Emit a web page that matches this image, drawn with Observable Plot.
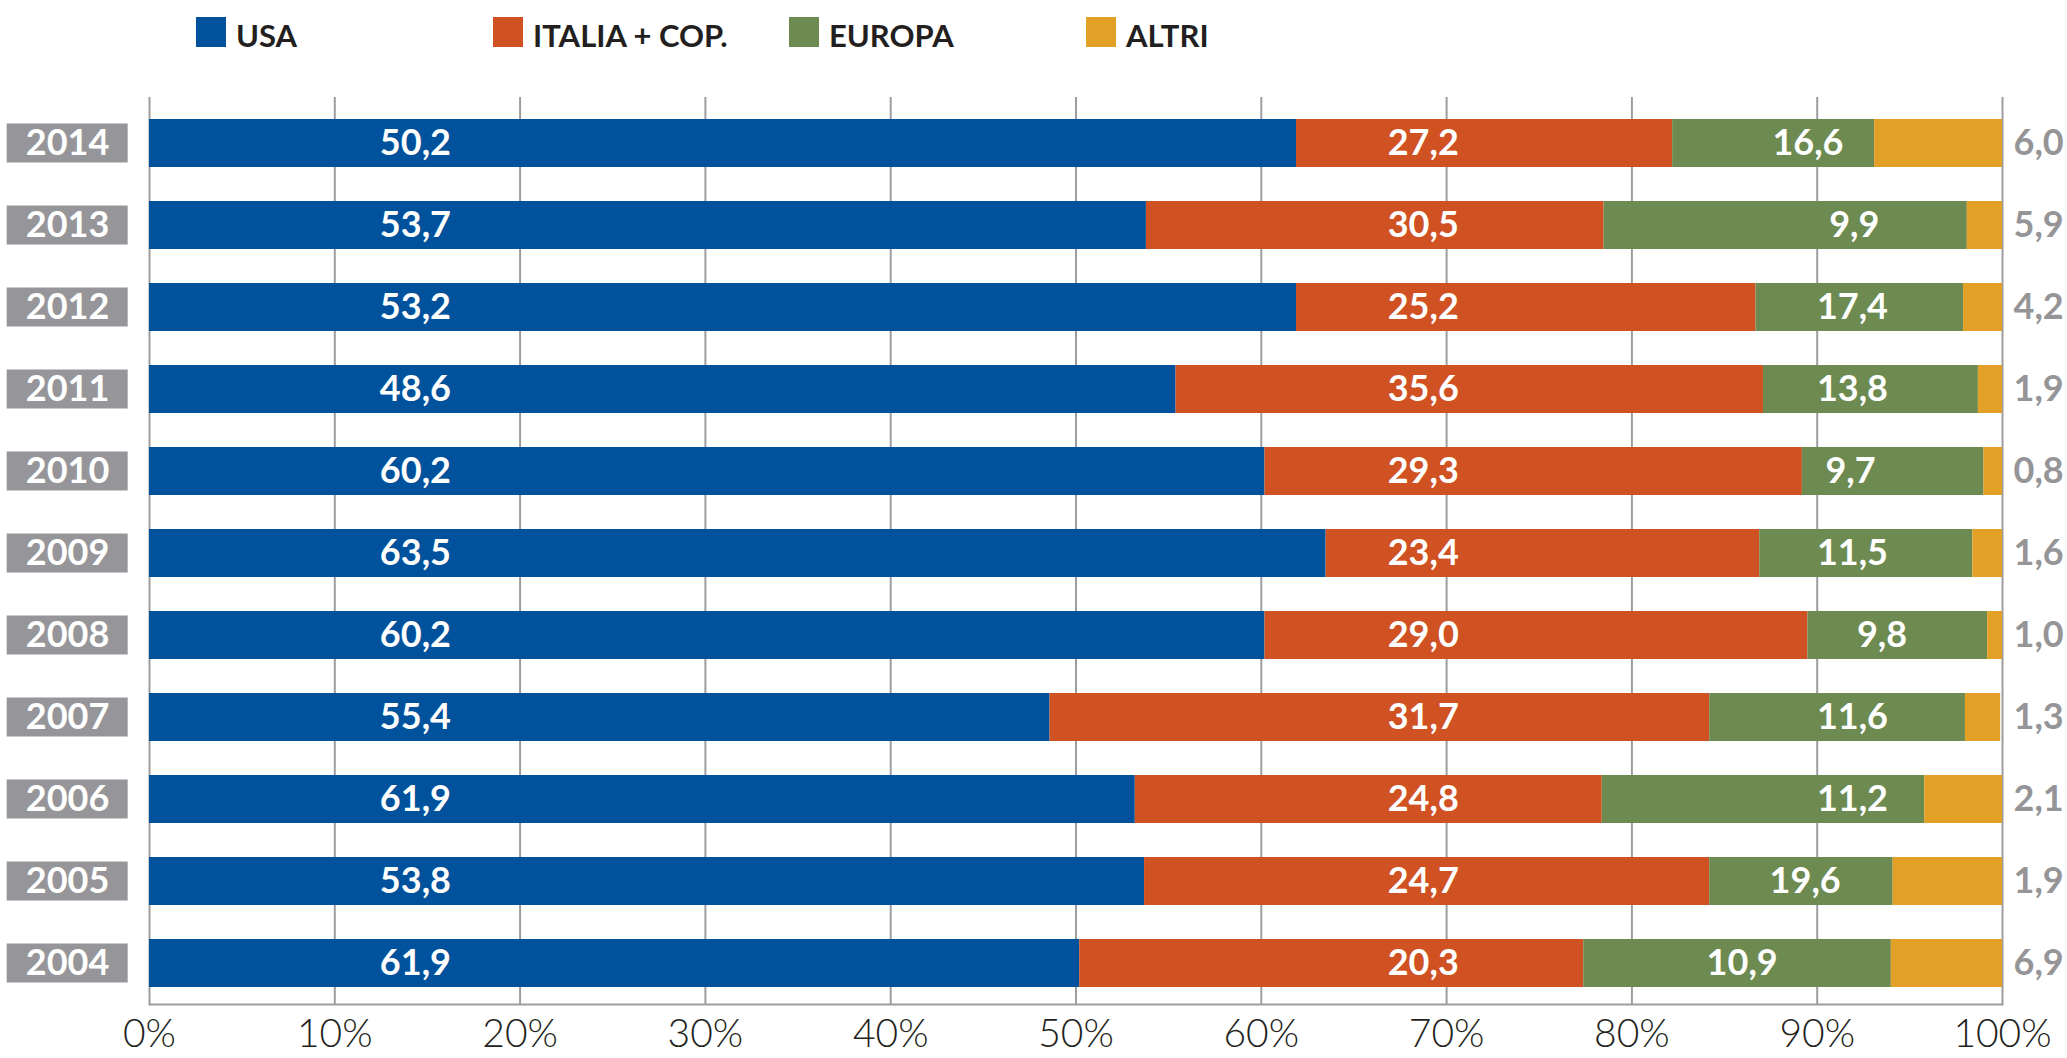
<!DOCTYPE html>
<html>
<head>
<meta charset="utf-8">
<script src="https://cdn.jsdelivr.net/npm/d3@7"></script>
<script src="https://cdn.jsdelivr.net/npm/@observablehq/plot@0.6"></script>
<style>
  html, body { margin: 0; padding: 0; background: #ffffff; }
  #legend { position: relative; width: 2067px; height: 62px; font-family: Lato, "Open Sans", sans-serif; }
  .sw { position: absolute; top: 17px; width: 30px; height: 30px; }
  .lt { position: absolute; top: 20px; line-height: 30px; font-size: 31px; font-weight: 700; color: #231f20; white-space: nowrap; }
  #chart svg { display: block; }
</style>
</head>
<body>
<div id="legend"></div>
<div id="chart"></div>
<script>
// ---- data ----
const years = [2014, 2013, 2012, 2011, 2010, 2009, 2008, 2007, 2006, 2005, 2004];
const usa    = [50.2, 53.7, 53.2, 48.6, 60.2, 63.5, 60.2, 55.4, 61.9, 53.8, 61.9];
const italia = [27.2, 30.5, 25.2, 35.6, 29.3, 23.4, 29.0, 31.7, 24.8, 24.7, 20.3];
const europa = [16.6,  9.9, 17.4, 13.8,  9.7, 11.5,  9.8, 11.6, 11.2, 19.6, 10.9];
const altri  = [ 6.0,  5.9,  4.2,  1.9,  0.8,  1.6,  1.0,  1.3,  2.1,  1.9,  6.9];
const seriesNames = ["USA", "ITALIA + COP.", "EUROPA", "ALTRI"];
const seriesColors = ["#00529c", "#d05122", "#6d8a51", "#e3a026"];
const xTicks = [0, 10, 20, 30, 40, 50, 60, 70, 80, 90, 100];
// where the EUROPA value labels sit along the % axis in the reference
const europaLabelAt = [89.5, 92.0, 91.9, 91.9, 91.8, 91.9, 93.5, 91.9, 91.9, 89.35, 85.95];

const seriesValues = [usa, italia, europa, altri];
const fmt = v => v.toFixed(1).replace(".", ",");

// In the reference the bar segments of each row are drawn in mirrored year order
// (row 2014 shows the 2004 shares, etc.), while the printed labels follow the rows.
const n = years.length;
const segments = [];
years.forEach((yr, i) => {
  seriesNames.forEach((s, k) => {
    segments.push({year: yr, series: s, value: seriesValues[k][n - 1 - i]});
  });
});

// ---- legend ----
const legendX = [196, 493, 789, 1086];
const legend = document.getElementById("legend");
seriesNames.forEach((s, k) => {
  const sw = document.createElement("div");
  sw.className = "sw";
  sw.style.left = legendX[k] + "px";
  sw.style.background = seriesColors[k];
  legend.appendChild(sw);
  const t = document.createElement("div");
  t.className = "lt";
  t.style.left = (legendX[k] + 40) + "px";
  t.textContent = s;
  legend.appendChild(t);
});

// ---- chart ----
const gridColor = "#9d9da0";
const chart = Plot.plot({
  width: 2067,
  height: 996,
  marginTop: 39,
  marginBottom: 54,
  marginLeft: 149,
  marginRight: 65,
  style: {fontFamily: "Lato, 'Open Sans', sans-serif", background: "#ffffff", overflow: "visible"},
  x: {domain: [0, 100], axis: null},
  y: {domain: years, type: "band", padding: 0, axis: null},
  color: {domain: seriesNames, range: seriesColors},
  marks: [
    Plot.ruleX(xTicks, {stroke: gridColor, strokeWidth: 2, insetTop: -4}),
    Plot.axisX({ticks: xTicks, tickFormat: d => d + "%", tickSize: 0, tickPadding: 15,
      fontSize: 39, fontWeight: 300, fill: "#231f20", label: null}),
    Plot.barX(segments, Plot.stackX({y: "year", x: "value", fill: "series", order: null,
      insetTop: 17, insetBottom: 17})),
    Plot.frame({anchor: "bottom", stroke: gridColor, strokeWidth: 2}),
    // year label boxes in the left margin
    Plot.barX(years, {y: d => d, x1: -7.68, x2: -1.15, fill: "#96969a", insetTop: 21.5, insetBottom: 21.5}),
    Plot.text(years, {y: d => d, x: -4.42, text: d => String(d), fill: "#ffffff",
      fontWeight: 700, fontSize: 36}),
    // value labels
    Plot.text(years, {y: d => d, x: 14.35, text: (d, i) => fmt(usa[i]), fill: "#ffffff",
      fontWeight: 700, fontSize: 36}),
    Plot.text(years, {y: d => d, x: 68.74, text: (d, i) => fmt(italia[i]), fill: "#ffffff",
      fontWeight: 700, fontSize: 36}),
    Plot.text(years, {y: d => d, x: (d, i) => europaLabelAt[i], text: (d, i) => fmt(europa[i]), fill: "#ffffff",
      fontWeight: 700, fontSize: 36}),
    Plot.text(years, {y: d => d, x: 100, dx: 11, textAnchor: "start", text: (d, i) => fmt(altri[i]),
      fill: "#959597", fontWeight: 700, fontSize: 36})
  ]
});
document.getElementById("chart").appendChild(chart);
</script>
</body>
</html>
